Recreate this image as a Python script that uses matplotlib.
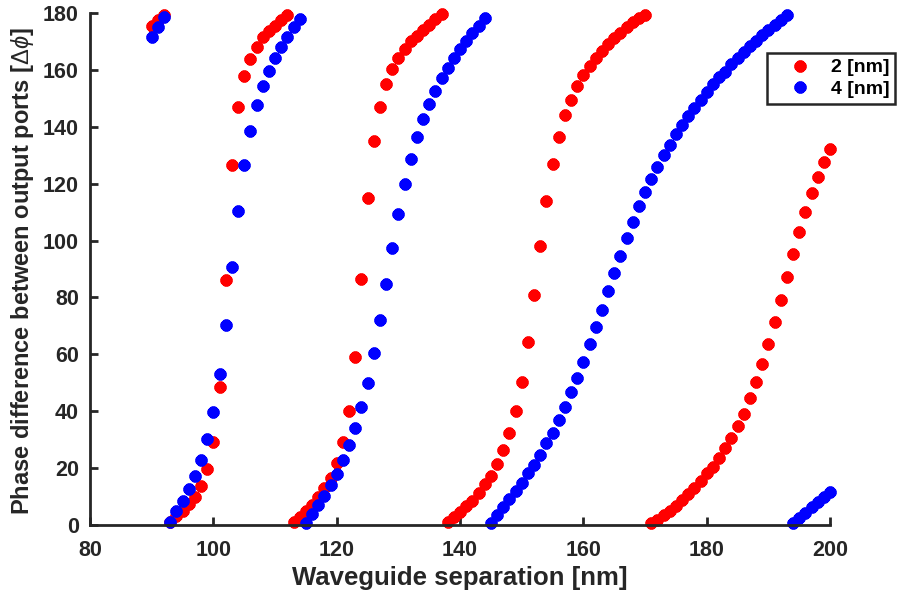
import matplotlib
matplotlib.use("Agg")
import matplotlib.pyplot as plt
import numpy as np

# Waveguide separation [nm]
x_vals = list(range(90, 201))

# Phase difference, 2 nm series
phase_2nm = [
    175.5, 177.4, 179.2,                                   # 90-92
    1.0, 3.0, 5.0, 7.5, 10.0, 13.7, 19.6, 29.2, 48.4, 86.2, # 93-102
    126.5, 147.1, 157.9, 163.9, 168.0, 171.4, 173.5, 175.3, 177.6, 179.3,  # 103-112
    1.2, 2.9, 4.9, 7.0, 9.7, 12.9, 16.4, 21.7, 29.3, 40.1,  # 113-122
    59.0, 86.6, 115.0, 135.0, 146.9, 155.0, 160.3, 164.3, 167.4, 170.2,  # 123-132
    172.0, 174.0, 175.8, 177.9, 179.6,                     # 133-137
    1.2, 2.9, 4.7, 6.5, 8.6, 11.4, 14.4, 17.3, 21.4, 26.4,  # 138-147
    32.2, 40.1, 50.4, 64.2, 80.7, 98.0, 114.0, 126.8, 136.4, 144.0,  # 148-157
    149.5, 154.4, 158.2, 161.4, 164.3, 166.7, 169.1, 171.3, 173.1, 175.2,  # 158-167
    176.8, 178.3, 179.4,                                   # 168-170
    0.6, 1.9, 3.4, 5.0, 6.8, 8.7, 10.8, 12.9, 15.6, 18.2,   # 171-180
    20.5, 23.4, 27.0, 30.5, 34.8, 39.0, 44.5, 50.2, 56.5, 63.5,  # 181-190
    71.3, 79.1, 87.3, 95.3, 102.9, 110.2, 116.6, 122.5, 127.5, 132.2,  # 191-200
]

# Phase difference, 4 nm series
phase_4nm = [
    171.5, 175.2, 178.6,                                   # 90-92
    1.2, 4.9, 8.4, 12.5, 17.2, 22.9, 30.1, 39.6, 52.9, 70.2,  # 93-102
    90.8, 110.5, 126.5, 138.5, 147.7, 154.4, 159.6, 164.1, 168.0, 171.5,  # 103-112
    174.9, 177.9,                                          # 113-114
    0.6, 3.9, 7.0, 10.2, 14.1, 17.8, 22.9, 28.0, 34.0, 41.6,  # 115-124
    50.0, 60.5, 72.0, 84.6, 97.5, 109.3, 119.9, 128.7, 136.5, 142.8,  # 125-134
    147.9, 152.6, 157.1, 160.8, 164.1, 167.4, 170.2, 172.9, 175.5, 178.3,  # 135-144
    0.6, 3.5, 6.4, 9.0, 12.1, 14.9, 18.2, 21.1, 24.6, 28.7,  # 145-154
    32.5, 36.9, 41.5, 46.6, 51.7, 57.3, 63.6, 69.5, 75.7, 82.3,  # 155-164
    88.6, 94.7, 100.8, 106.5, 112.0, 117.0, 121.8, 125.9, 130.1, 133.7,  # 165-174
    137.4, 140.7, 143.8, 146.7, 149.5, 152.1, 155.0, 157.4, 159.4, 161.9,  # 175-184
    164.0, 166.2, 168.3, 170.1, 172.2, 174.0, 175.9, 177.6, 179.2,  # 185-193
    0.6, 2.4, 4.3, 6.2, 8.0, 9.9, 11.7,                    # 194-200
]

series_labels = ["2 [nm]", "4 [nm]"]
series_colors = ["#ff0000", "#0000ff"]

x_ticks = [80, 100, 120, 140, 160, 180, 200]
y_ticks = [0, 20, 40, 60, 80, 100, 120, 140, 160, 180]

plt.rcParams['font.family'] = ['Liberation Sans', 'DejaVu Sans']
plt.rcParams['mathtext.fontset'] = 'custom'
plt.rcParams['mathtext.rm'] = 'Liberation Sans'
plt.rcParams['mathtext.it'] = 'Liberation Sans:italic'

fig = plt.figure(figsize=(9.01, 5.94), dpi=100)
ax = fig.add_axes([0.0999, 0.1162, 0.8213, 0.862])

marker = (8, 2, 0)
for ys, lab, col in zip([phase_2nm, phase_4nm], series_labels, series_colors):
    ax.plot(x_vals, ys, linestyle='none', marker=marker, markersize=8.5,
            markeredgewidth=3.0, color=col, markerfacecolor=col,
            markeredgecolor=col, label=lab, clip_on=False)

ax.set_xlim(80, 200)
ax.set_ylim(0, 180)
ax.set_xticks(x_ticks)
ax.set_yticks(y_ticks)
for s in ['top', 'right']:
    ax.spines[s].set_visible(False)
for s in ['left', 'bottom']:
    ax.spines[s].set_linewidth(2.0)
    ax.spines[s].set_color('#262626')
ax.tick_params(direction='in', length=6, width=2, color='#262626',
               labelsize=15.5)
ax.tick_params(axis='x', pad=10.5)
ax.tick_params(axis='y', pad=8)
for lbl in ax.get_xticklabels() + ax.get_yticklabels():
    lbl.set_fontweight('bold')
    lbl.set_color('#262626')

ax.set_xlabel("Waveguide separation [nm]", fontsize=18.5, fontweight='bold',
              color='#262626')
ax.set_ylabel(r"Phase difference between output ports [$\Delta\phi$]",
              fontsize=17, fontweight='bold', color='#262626')
ax.xaxis.set_label_coords(0.5, -0.080)
ax.yaxis.set_label_coords(-0.073, 0.496)

leg = ax.legend(loc='upper right', bbox_to_anchor=(1.088, 0.922),
                borderaxespad=0.0,
                frameon=True, fancybox=False, framealpha=1,
                edgecolor='#262626', prop={'weight': 'bold', 'size': 14},
                handletextpad=0.25, borderpad=0.3, labelspacing=0.2,
                handlelength=2.7)
leg.get_frame().set_linewidth(1.8)
leg.set_zorder(5)

fig.savefig("out.png", dpi=100)
